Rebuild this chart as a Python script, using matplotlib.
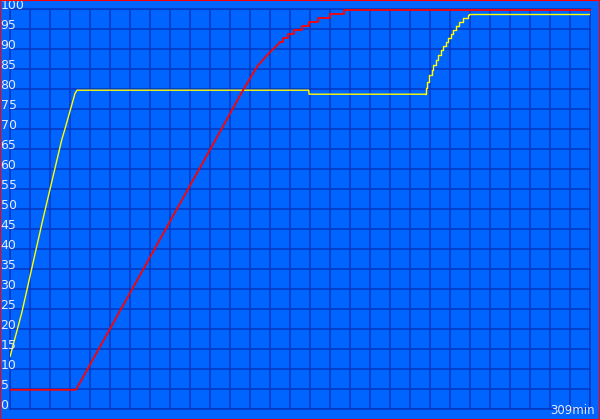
import numpy as np
import matplotlib
matplotlib.use('Agg')
import matplotlib.pyplot as plt
import matplotlib.transforms as mtransforms
from matplotlib.patches import Rectangle

# time in minutes, charge in percent
total_min = 309

red_ramp_t = [0, 35.4, 106.8, 124.4, 131.9, 137.3, 144.2]
red_ramp_v = [4.8, 4.8, 64.8, 79.7, 85.6, 88.5, 91.7]
red_top_t = [144.2, 145.7, 148.4, 151.6, 155.9, 159.6, 164.4, 170.8, 178.2, 309]
red_top_v = [91.7, 92.7, 93.7, 94.7, 95.7, 96.7, 97.7, 98.7, 99.7, 99.7]

yel_ramp_t = [0.3, 6.5, 17.7, 27.8, 29.9, 34.9, 36.0, 159.4, 159.6, 221.5]
yel_ramp_v = [13.1, 24.0, 47.25, 67.25, 70.6, 78.9, 79.7, 79.7, 78.7, 78.7]
yel_top_t = [221.5, 221.9, 222.6, 223.7, 224.9, 225.8, 227.2, 228.4, 229.7, 231.1,
             232.4, 233.8, 235.1, 236.4, 237.9, 239.6, 241.8, 244.1, 244.8, 308.6, 309]
yel_top_v = [78.7, 80.2, 81.8, 83.5, 84.75, 86.0, 87.25, 88.5, 89.75, 90.75,
             91.7, 92.7, 93.7, 94.7, 95.7, 96.7, 97.7, 98.5, 98.7, 98.7, 99.7]

y_ticks = list(range(0, 101, 5))
n_xgrid = 29

BG = "#0064ff"
GRID = "#0636c0"

fig = plt.figure(figsize=(6, 4.2), dpi=100, facecolor=BG)
ax = fig.add_axes([9.5 / 600, 11 / 420, 580 / 600, 400 / 420])
ax.set_facecolor(BG)

ax.set_xlim(0, total_min)
ax.set_ylim(0, 100)
ax.set_xticks(np.linspace(0, total_min, n_xgrid + 1))
ax.set_yticks(y_ticks)
ax.grid(True, color=GRID, linewidth=1.1)
ax.tick_params(length=0, labelbottom=False, labelleft=False)
for sp in ax.spines.values():
    sp.set_color(GRID)
    sp.set_linewidth(1.1)

ax.plot(yel_ramp_t, yel_ramp_v, color="#ffff00", linewidth=1.0, zorder=3)
ax.plot(yel_top_t, yel_top_v, color="#ffff00", linewidth=1.0,
        drawstyle="steps-post", zorder=3)
ax.plot(red_ramp_t, red_ramp_v, color="#ff0000", linewidth=1.3, zorder=4)
ax.plot(red_top_t, red_top_v, color="#ff0000", linewidth=1.3,
        drawstyle="steps-post", zorder=4, clip_on=False)

# y labels sit inside the plot, at the far left of the figure
trans = mtransforms.blended_transform_factory(fig.transFigure, ax.transData)
trans = trans + mtransforms.ScaledTranslation(0, 2.5 / 72, fig.dpi_scale_trans)
for v in y_ticks:
    ax.text(0.5 / 600, v, str(v), transform=trans, color="#e6ecff",
            fontsize=9, ha="left", va="center", zorder=5)

fig.text(595 / 600, 3 / 420, "309min", color="#e6ecff", fontsize=8.5,
         ha="right", va="bottom")

fig.patches.append(Rectangle((0, 0), 1, 1, transform=fig.transFigure,
                             fill=False, edgecolor="#ff0000", linewidth=1.5))

fig.savefig("out.png", dpi=100, facecolor=BG)
